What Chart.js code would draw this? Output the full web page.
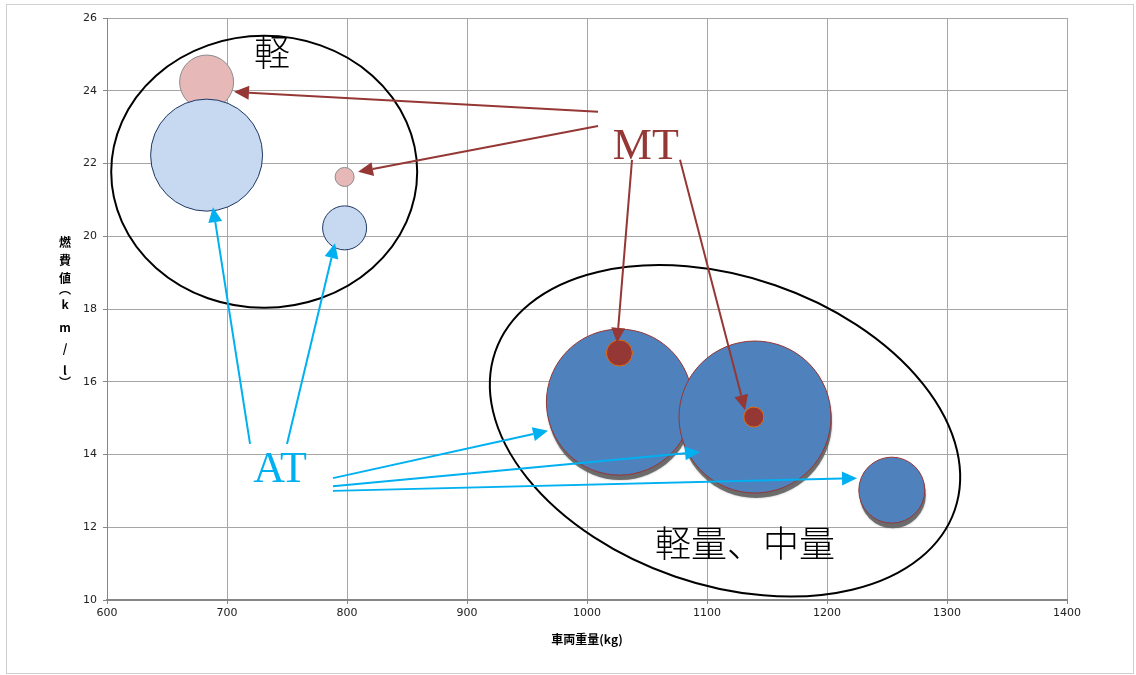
<!DOCTYPE html>
<html><head><meta charset="utf-8">
<script src="https://cdn.jsdelivr.net/npm/chart.js@4.4.0/dist/chart.umd.min.js"></script>
<style>html,body{margin:0;padding:0;background:#fff;}#wrap{width:1136px;height:675px;position:relative;}canvas{display:block;}</style>
</head><body><div id="wrap"><canvas id="c" width="1136" height="675"></canvas></div>
<script>
// ---- axis ranges / ticks ----
const xTicks = [600, 700, 800, 900, 1000, 1100, 1200, 1300, 1400];
const yTicks = [10, 12, 14, 16, 18, 20, 22, 24, 26];
const xTitle = '車両重量(kg)';
const yTitle = ['燃', '費', '値', '︵', 'k', 'm', '/', 'l', '︶'];

// ---- series: 軽 (kei) cars ----
const keiMtWeight = [683, 798];
const keiMtFuel   = [24.24, 21.63];
const keiMtSize   = [27, 9.5];
const keiAtWeight = [683, 798];
const keiAtFuel   = [22.23, 20.23];
const keiAtSize   = [56, 22];

// ---- series: 軽量・中量 cars ----
const regAtWeight = [1027, 1140, 1254];
const regAtFuel   = [15.44, 15.03, 13.02];
const regAtSize   = [73, 76, 33];
const regMtWeight = [1027, 1139];
const regMtFuel   = [16.79, 15.03];
const regMtSize   = [13, 10];

// ---- annotations (data coordinates) ----
const groupEllipses = [
  {x: 731, y: 21.77, rx: 153, ry: 136, rot: 0},
  {x: 1115, y: 14.65, rx: 243, ry: 154, rot: 19}
];
const mtArrows = [
  [1009.2, 23.42, 705.8, 23.97],
  [1009.2, 23.03, 809.2, 21.77],
  [1037.5, 22.10, 1025.0, 17.07],
  [1077.5, 22.10, 1131.7, 15.22]
];
const atArrows = [
  [719.2, 14.29, 688.3, 20.80],
  [750.0, 14.29, 790.0, 19.81],
  [788.3, 13.35, 967.5, 14.65],
  [788.3, 13.13, 1094.2, 14.07],
  [788.3, 13.00, 1225.0, 13.35]
];
const textLabels = [
  {text: '軽', x: 737.5, y: 25.07, color: '#000000', font: '300 36px "Noto Sans CJK JP"'},
  {text: 'MT', x: 1049, y: 22.45, color: '#953735', font: '44px "Liberation Serif"'},
  {text: 'AT', x: 744.2, y: 13.57, color: '#00B0F0', font: '44px "Liberation Serif"'},
  {text: '軽量、中量', x: 1131.7, y: 11.57, color: '#000000', font: '300 36px "Noto Sans CJK JP"'}
];

function pts(xs, ys, rs) { return xs.map((x, i) => ({x: x, y: ys[i], r: rs[i]})); }

// soft drop shadow under the flagged bubbles, drawn from the library's own element positions
const shadowPlugin = {
  id: 'shadow',
  beforeDatasetDraw(chart, args) {
    const ds = chart.data.datasets[args.index];
    if (!ds.shadow) return;
    const ctx = chart.ctx;
    ctx.save();
    ctx.fillStyle = 'rgba(95,95,95,0.85)';
    ctx.shadowColor = 'rgba(95,95,95,0.6)';
    ctx.shadowBlur = 2;
    args.meta.data.forEach(el => {
      const r = el.options.radius;
      ctx.beginPath();
      ctx.arc(el.x + 1, el.y + 5, r, 0, Math.PI * 2);
      ctx.fill();
    });
    ctx.restore();
  }
};

function arrow(ctx, x1, y1, x2, y2, color) {
  const ang = Math.atan2(y2 - y1, x2 - x1);
  const hl = 15, hw = 7;
  const bx = x2 - hl * Math.cos(ang), by = y2 - hl * Math.sin(ang);
  ctx.strokeStyle = color; ctx.fillStyle = color; ctx.lineWidth = 2;
  ctx.beginPath(); ctx.moveTo(x1, y1); ctx.lineTo(bx, by); ctx.stroke();
  ctx.beginPath();
  ctx.moveTo(x2, y2);
  ctx.lineTo(bx + hw * Math.sin(ang), by - hw * Math.cos(ang));
  ctx.lineTo(bx - hw * Math.sin(ang), by + hw * Math.cos(ang));
  ctx.closePath(); ctx.fill();
}

const annotPlugin = {
  id: 'annot',
  beforeDraw(chart) {
    const ctx = chart.ctx;
    ctx.save();
    ctx.fillStyle = '#ffffff';
    ctx.fillRect(0, 0, chart.width, chart.height);
    ctx.strokeStyle = '#d0d0d0'; ctx.lineWidth = 1;
    ctx.strokeRect(6.5, 4.5, 1127, 669);
    ctx.restore();
  },
  afterDraw(chart) {
    const ctx = chart.ctx, xs = chart.scales.x, ys = chart.scales.y;
    ctx.save();
    groupEllipses.forEach(e => {
      ctx.beginPath();
      ctx.ellipse(xs.getPixelForValue(e.x), ys.getPixelForValue(e.y), e.rx, e.ry, e.rot * Math.PI / 180, 0, Math.PI * 2);
      ctx.strokeStyle = '#000'; ctx.lineWidth = 2; ctx.stroke();
    });
    mtArrows.forEach(a => arrow(ctx, xs.getPixelForValue(a[0]), ys.getPixelForValue(a[1]), xs.getPixelForValue(a[2]), ys.getPixelForValue(a[3]), '#953735'));
    atArrows.forEach(a => arrow(ctx, xs.getPixelForValue(a[0]), ys.getPixelForValue(a[1]), xs.getPixelForValue(a[2]), ys.getPixelForValue(a[3]), '#00B0F0'));
    ctx.textAlign = 'center'; ctx.textBaseline = 'middle';
    textLabels.forEach(t => {
      ctx.font = t.font; ctx.fillStyle = t.color;
      ctx.fillText(t.text, xs.getPixelForValue(t.x), ys.getPixelForValue(t.y));
    });
    ctx.fillStyle = '#000';
    ctx.font = 'bold 12px "Noto Sans CJK JP"';
    ctx.fillText(xTitle, (chart.chartArea.left + chart.chartArea.right) / 2, 639);
    const yPos = [242, 260, 278, 289, 304, 327, 348, 370, 382];
    yTitle.forEach((ch, i) => ctx.fillText(ch, 65, yPos[i]));
    ctx.restore();
  }
};

new Chart(document.getElementById('c'), {
  type: 'bubble',
  data: {
    datasets: [
      {label: 'MT (軽量・中量)', data: pts(regMtWeight, regMtFuel, regMtSize), backgroundColor: '#953735', borderColor: '#E46C0A', borderWidth: 1, order: 0},
      {label: 'AT (軽量・中量)', data: pts(regAtWeight, regAtFuel, regAtSize), backgroundColor: '#4F81BD', borderColor: '#953735', borderWidth: 1, order: 1, shadow: true},
      {label: 'AT (軽)', data: pts(keiAtWeight, keiAtFuel, keiAtSize), backgroundColor: '#C6D9F1', borderColor: '#1F3864', borderWidth: 1, order: 2},
      {label: 'MT (軽)', data: pts(keiMtWeight, keiMtFuel, keiMtSize), backgroundColor: '#E6B9B8', borderColor: '#8C8C8C', borderWidth: 1, order: 3}
    ]
  },
  options: {
    responsive: false,
    animation: false,
    devicePixelRatio: 1,
    layout: {autoPadding: false, padding: {left: 0, right: 69, top: 18, bottom: 0}},
    plugins: {legend: {display: false}, tooltip: {enabled: false}},
    elements: {point: {hoverRadius: 0}},
    scales: {
      x: {
        type: 'linear', min: 600, max: 1400,
        afterBuildTicks(s) { s.ticks = xTicks.map(v => ({value: v})); },
        afterFit(s) { s.height = 75; },
        ticks: {font: {family: 'DejaVu Sans', size: 11}, color: '#222', padding: 3, maxRotation: 0, callback: v => String(v)},
        grid: {color: '#a6a6a6', lineWidth: 1, tickLength: 4, tickColor: '#868686'},
        border: {color: '#868686', width: 2}
      },
      y: {
        type: 'linear', min: 10, max: 26,
        afterBuildTicks(s) { s.ticks = yTicks.map(v => ({value: v})); },
        afterFit(s) { s.width = 107; },
        ticks: {font: {family: 'DejaVu Sans', size: 11}, color: '#222', padding: 6, callback: v => String(v)},
        grid: {color: '#a6a6a6', lineWidth: 1, tickLength: 4, tickColor: '#868686'},
        border: {color: '#868686', width: 1}
      }
    }
  },
  plugins: [shadowPlugin, annotPlugin]
});
</script></body></html>
